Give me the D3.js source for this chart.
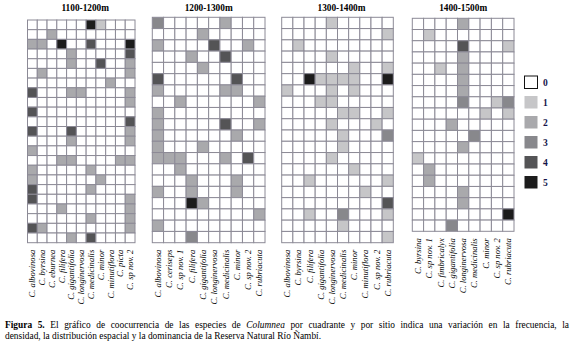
<!DOCTYPE html>
<html>
<head>
<meta charset="utf-8">
<script src="https://cdn.jsdelivr.net/npm/d3@7"></script>
<style>
  body { margin: 0; background: #fff; }
  svg { display: block; }
</style>
</head>
<body>
<div id="chart"></div>
<script>
// datos: una cadena por cuadrante (fila), un dígito por especie (columna)
const titulos = ["1100-1200m", "1200-1300m", "1300-1400m", "1400-1500m"];

const especies1 = ["C. albovinosa", "C. byrsina", "C. eburnea", "C. filifera", "C. gigantifolia",
  "C. longinervosa", "C. medicinalis", "C. minor", "C. minutiflora", "C. picta", "C. sp nov. 2"];
const especies2 = ["C. albovinosa", "C. ceriseps", "C. sp nov. 1", "C. filifera", "C. gigantifolia",
  "C. longinervosa", "C. medicinalis", "C. minor", "C. sp nov. 2", "C. rubriacuta"];
const especies3 = ["C. albovinosa", "C. byrsina", "C. filifera", "C. gigantifolia", "C. longinervosa",
  "C. medicinalis", "C. minor", "C. minutiflora", "C. sp nov. 2", "C. rubriacuta"];
const especies4 = ["C. byrsina", "C. sp nov. 1", "C. fimbricalyx", "C. gigantifolia", "C. longinervosa",
  "C. medicinalis", "C. minor", "C. sp nov. 2", "C. rubriacuta"];

const cuadrantes1 = [
  "00000051000", "00200000000", "22050040005", "00002000004", "00002004002",
  "02000000002", "00000000200", "40002200002", "00000000002", "40000000000",
  "00000000004", "40004000002", "00002000002", "20000000000", "00022000022",
  "20000020000", "20000002000", "40000020000", "40000000002", "00020000002",
  "00000020002", "42000000002", "00002040000"];
const cuadrantes2 = [
  "3000002000", "0000200000", "2000040020", "0002004000", "0000200000",
  "4000000400", "2000002200", "0020000002", "2000000000", "2000004002",
  "2000000200", "2000200000", "2220002040", "0020000000", "0002000200",
  "2002000200", "0005200000", "0000000002", "2000000000", "0003000000"];
const cuadrantes3 = [
  "0000100000", "0000000001", "0100000000", "0000100000", "0000001001",
  "0051111005", "1000101000", "0001100000", "0000011001", "0000100010",
  "0000010003", "0000010000", "0000100000", "0000001000", "0010000001",
  "0000000100", "0000000004", "0010030001", "0000010000", "0000000001"];
const cuadrantes4 = [
  "000020000", "010000000", "000040001", "000020000", "001020000",
  "000020000", "000020000", "000030013", "000000101", "000200000",
  "000003000", "000020000", "100000000", "020000000", "020000000",
  "000020000", "000020000", "000000005", "000300000"];

const niveles = [0, 1, 2, 3, 4, 5];

const caption1 = "El gráfico de coocurrencia de las especies de ";
const caption2 = " por cuadrante y por sitio indica una variación en la frecuencia, la";
const caption3 = "densidad, la distribución espacial y la dominancia de la Reserva Natural Río Ñambí.";

// posiciones de cada panel
const paneles = [
  { x: 27.5, y: 20, w: 107.5, h: 222.7, especies: especies1, filas: cuadrantes1 },
  { x: 152.3, y: 17.3, w: 112.7, h: 225.4, especies: especies2, filas: cuadrantes2 },
  { x: 281.7, y: 17.3, w: 111.6, h: 225.4, especies: especies3, filas: cuadrantes3 },
  { x: 412.3, y: 18.3, w: 101.7, h: 213, especies: especies4, filas: cuadrantes4 }
];

const serif = "'Liberation Serif', 'Times New Roman', serif";
const width = 575, height = 347;

const color = d3.scaleOrdinal()
  .domain(niveles)
  .range(["#ffffff", "#c6c6c8", "#a9a9ac", "#88888c", "#545456", "#1c1c1c"]);

const svg = d3.select("#chart").append("svg")
  .attr("width", width)
  .attr("height", height);

paneles.forEach((p, k) => {
  const nFil = p.filas.length;
  const x = d3.scaleBand().domain(d3.range(p.especies.length)).range([p.x, p.x + p.w]);
  const y = d3.scaleBand().domain(d3.range(nFil)).range([p.y, p.y + p.h]);

  const celdas = [];
  p.filas.forEach((fila, i) => {
    fila.split("").forEach((v, j) => celdas.push({ fila: i, col: j, v: +v }));
  });

  const g = svg.append("g");

  g.selectAll("rect")
    .data(celdas)
    .enter()
    .append("rect")
    .attr("x", d => x(d.col))
    .attr("y", d => y(d.fila))
    .attr("width", x.bandwidth())
    .attr("height", y.bandwidth())
    .attr("fill", d => color(d.v))
    .attr("stroke", "#8c8a96")
    .attr("stroke-width", 1);

  // titulo
  g.append("text")
    .text(titulos[k])
    .attr("x", p.x + p.w / 2 + (k == 0 ? 4 : 0) + (k == 2 ? 4 : 0))
    .attr("y", 10.5)
    .attr("text-anchor", "middle")
    .style("font-family", serif)
    .style("font-weight", "bold")
    .style("font-size", "9.3px");

  // etiquetas de especies
  g.selectAll(".esp")
    .data(p.especies)
    .enter()
    .append("text")
    .attr("class", "esp")
    .text(d => d)
    .attr("text-anchor", "end")
    .attr("transform", (d, i) => "translate(" + (x(i) + x.bandwidth() / 2 + 3) + "," + (p.y + p.h + 7) + ") rotate(-90)")
    .style("font-family", serif)
    .style("font-style", "italic")
    .style("font-size", "8.6px");
});

// leyenda
const ley = svg.append("g");
const yl = d3.scaleLinear().domain([0, 5]).range([76, 176]);

ley.selectAll("rect")
  .data(niveles)
  .enter()
  .append("rect")
  .attr("x", 524.5)
  .attr("y", d => yl(d))
  .attr("width", 13)
  .attr("height", 12.5)
  .attr("fill", d => color(d))
  .attr("stroke", d => d == 0 ? "#111" : "none")
  .attr("stroke-width", 1);

ley.selectAll("text")
  .data(niveles)
  .enter()
  .append("text")
  .text(d => d)
  .attr("x", 543)
  .attr("y", d => yl(d) + 9.5)
  .style("font-family", serif)
  .style("font-weight", "bold")
  .style("font-size", "9.5px")
  .style("fill", "#14144a");

// pie de figura
const l1 = svg.append("text")
  .attr("x", 5)
  .attr("y", 328)
  .style("font-family", serif)
  .style("font-size", "9.4px");
l1.append("tspan").text("Figura 5. ").style("font-weight", "bold");
l1.append("tspan").text(caption1);
l1.append("tspan").text("Columnea").style("font-style", "italic");
l1.append("tspan").text(caption2);

// justificar la primera linea
const natural = l1.node().getComputedTextLength();
const espacios = ("Figura 5. " + caption1 + "Columnea" + caption2).split(" ").length - 1;
l1.style("word-spacing", ((569 - 5 - natural) / espacios) + "px");

svg.append("text")
  .text(caption3)
  .attr("x", 5)
  .attr("y", 339)
  .style("font-family", serif)
  .style("font-size", "9.4px");
</script>
</body>
</html>
